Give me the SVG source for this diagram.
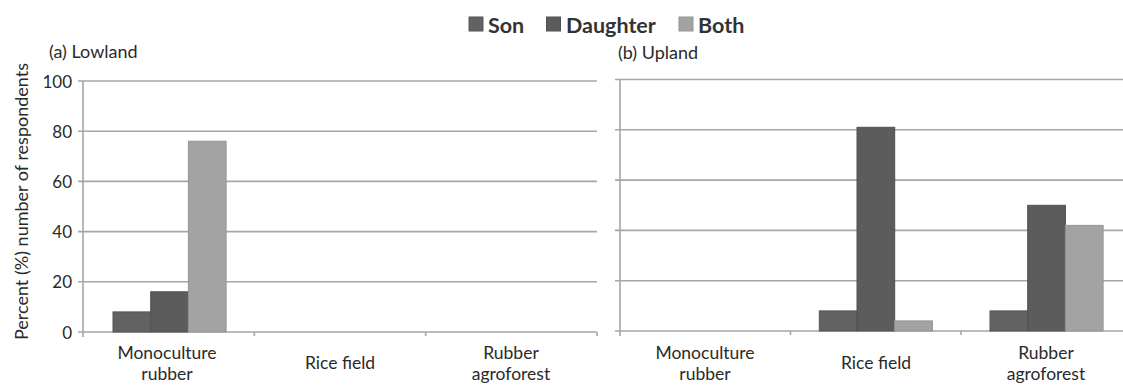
<svg xmlns="http://www.w3.org/2000/svg" width="1123" height="385" viewBox="0 0 1123 385">
<style>
text{font-family:Lato,"Open Sans","Liberation Sans",sans-serif;fill:#2a2a2a}
.grid{stroke:#a6a6a6;stroke-width:1.6;fill:none}
.son{fill:#626262;stroke:#555;stroke-width:1}
.dau{fill:#5c5c5c;stroke:#505050;stroke-width:1}
.both{fill:#a3a3a3;stroke:#959595;stroke-width:1}
.tick{font-size:17px;text-anchor:end}
.cat{font-size:17.5px;text-anchor:middle}
.leg{font-size:21.5px;font-weight:bold;fill:#333}
.title{font-size:18px}
</style>
<rect width="1123" height="385" fill="#fff"/>
<g id="legend">
<rect x="469" y="17" width="14" height="14" class="son"/>
<text x="488" y="32.5" class="leg">Son</text>
<rect x="546.5" y="17" width="14" height="14" class="dau"/>
<text x="566" y="32.5" class="leg">Daughter</text>
<rect x="679" y="17" width="14" height="14" class="both"/>
<text x="698" y="32.5" class="leg">Both</text>
</g>
<g id="panel-a">
<text x="49" y="58" class="title">(a) Lowland</text>
<text transform="translate(28,201.5) rotate(-90)" font-size="18" text-anchor="middle">Percent (%) number of respondents</text>
<g class="grid">
<path d="M78 81H597M78 131.2H597M78 181.4H597M78 231.6H597M78 281.8H597M78 332H597"/>
<path d="M83 81V337M254.3 332V336M425.7 332V336M597 332V336"/>
</g>
<g>
<text x="72" y="87.5" class="tick">100</text>
<text x="72" y="137.5" class="tick">80</text>
<text x="72" y="187.5" class="tick">60</text>
<text x="72" y="238" class="tick">40</text>
<text x="72" y="288" class="tick">20</text>
<text x="72" y="338.5" class="tick">0</text>
</g>
<rect x="113" y="311.9" width="37.7" height="20.1" class="son"/>
<rect x="150.7" y="291.8" width="37.7" height="40.2" class="dau"/>
<rect x="188.4" y="141.2" width="37.7" height="190.8" class="both"/>
<text x="167" y="359" class="cat">Monoculture</text>
<text x="167" y="380" class="cat">rubber</text>
<text x="340" y="369" class="cat">Rice field</text>
<text x="511" y="359" class="cat">Rubber</text>
<text x="511" y="380" class="cat">agroforest</text>
</g>
<g id="panel-b">
<text x="618" y="59" class="title">(b) Upland</text>
<g class="grid">
<path d="M615 79.5H1123M615 129.8H1123M615 180.1H1123M615 230.4H1123M615 280.7H1123M615 331H1123"/>
<path d="M620 79.5V336M790.5 331V335M961 331V335"/>
</g>
<rect x="819.3" y="310.9" width="37.7" height="20.1" class="son"/>
<rect x="857" y="127.3" width="37.7" height="203.7" class="dau"/>
<rect x="894.7" y="320.9" width="37.7" height="10.1" class="both"/>
<rect x="990" y="310.9" width="37.7" height="20.1" class="son"/>
<rect x="1027.7" y="205.3" width="37.7" height="125.7" class="dau"/>
<rect x="1065.4" y="225.4" width="37.7" height="105.6" class="both"/>
<text x="705" y="359" class="cat">Monoculture</text>
<text x="705" y="380" class="cat">rubber</text>
<text x="876" y="369" class="cat">Rice field</text>
<text x="1046" y="359" class="cat">Rubber</text>
<text x="1046" y="380" class="cat">agroforest</text>
</g>
</svg>
